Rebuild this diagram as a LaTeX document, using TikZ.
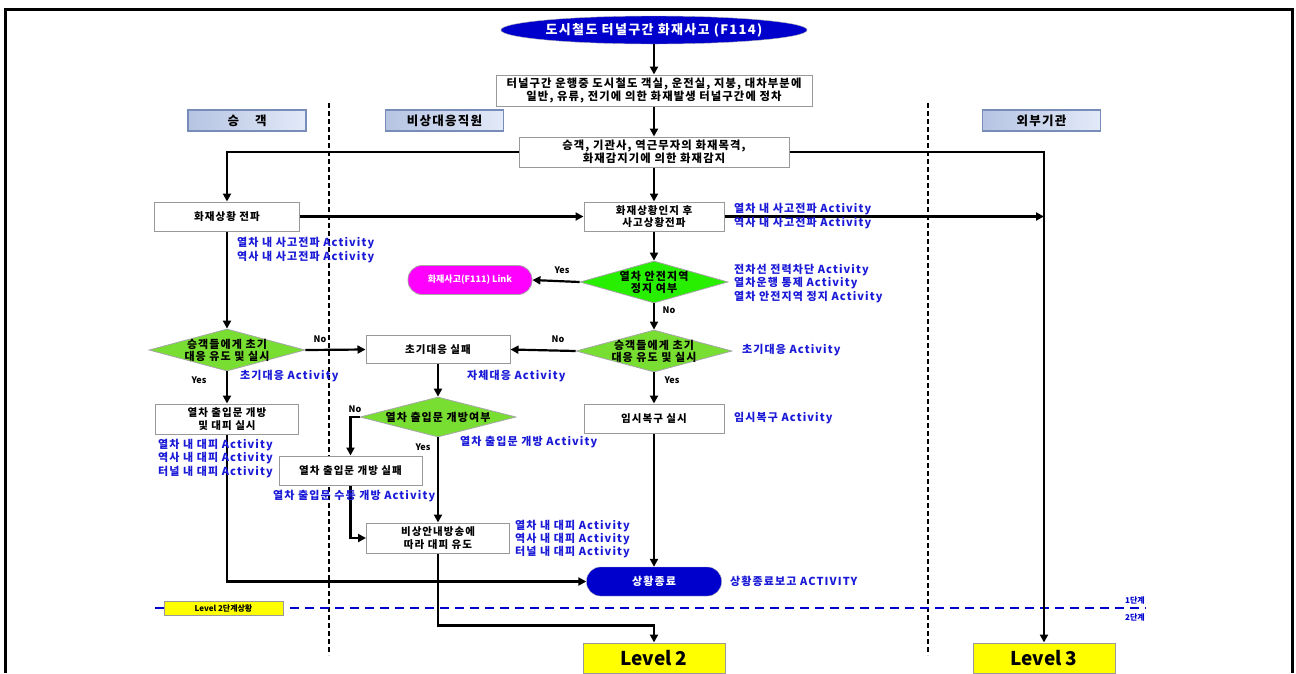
\documentclass[tikz,border=0pt]{standalone}
\usepackage{fontspec}
\setmainfont{Noto Sans CJK KR}
\newfontfamily\krs{Noto Sans CJK KR}[LetterSpace=10]
\usetikzlibrary{shapes.geometric,arrows.meta}
\definecolor{dblue}{RGB}{0,0,204}
\definecolor{actblue}{RGB}{25,25,215}
\definecolor{grnA}{RGB}{40,238,0}
\definecolor{grnB}{RGB}{120,222,50}
\definecolor{mag}{RGB}{255,0,255}
\definecolor{hdr}{RGB}{208,220,244}
\definecolor{hdrdark}{RGB}{120,140,185}
\definecolor{ylw}{RGB}{255,255,0}
\tikzset{
  fbox/.style={draw=gray!80, fill=white, line width=1pt, inner sep=0pt, align=center,
    font=\krs\fontsize{10.5}{12.5}\selectfont\bfseries},
  ddiam/.style={diamond, draw=gray!70, line width=0.8pt, inner sep=0pt},
  dtext/.style={align=center, inner sep=0pt, font=\krs\fontsize{11}{12}\selectfont\bfseries},
  hdrbox/.style={draw=hdrdark, line width=1.2pt, left color=hdr!70!hdrdark, right color=hdr!60!white,
    inner sep=0pt, minimum width=118pt, minimum height=21pt, font=\krs\fontsize{12.5}{14}\selectfont\bfseries},
  conn/.style={line width=2.2pt, -{Triangle[length=8pt,width=8pt]}},
  act/.style={anchor=west, text=actblue, align=left, inner sep=0pt, font=\krs\fontsize{11}{13.3}\selectfont\bfseries},
  yn/.style={inner sep=0pt, font=\fontsize{9}{10}\selectfont\bfseries},
  lvl/.style={draw=gray!80, fill=ylw, line width=1pt, inner sep=0pt, minimum width=142pt, minimum height=30pt,
    font=\fontsize{19}{20}\selectfont\bfseries},
  sep/.style={line width=2pt, dash pattern=on 5pt off 3pt},
}
\begin{document}
\begin{tikzpicture}[x=1pt,y=-1pt]
\useasboundingbox (0,0) rectangle (1296,673);
% frame
\draw[line width=3pt] (5,673) -- (5,9) -- (1292,9) -- (1292,673);
% lane separators
\draw[sep] (329,103) -- (329,655);
\draw[sep] (928,103) -- (928,655);
% level separator
\draw[dblue, line width=2.4pt, dash pattern=on 9pt off 6pt] (155,608) -- (1146,608);
\node[draw=gray!80, fill=ylw, line width=0.8pt, minimum width=119pt, minimum height=14pt, inner sep=0pt,
  font=\fontsize{8}{9}\selectfont\bfseries] (lv2s) at (223.5,608) {Level 2단계상황};
\node[text=dblue, inner sep=0pt, font=\fontsize{8}{9}\selectfont\bfseries] (st1) at (1135,600) {1단계};
\node[text=dblue, inner sep=0pt, font=\fontsize{8}{9}\selectfont\bfseries] (st2) at (1135,617) {2단계};

% headers
\node[hdrbox] (hL) at (247,120.5) {승\hspace{16pt}객};
\node[hdrbox] (hM) at (444.5,120.5) {비상대응직원};
\node[hdrbox] (hR) at (1041.5,120.5) {외부기관};

% main nodes
\node[ellipse, fill=dblue, draw=gray!60, minimum width=280pt, minimum height=28pt, inner sep=0pt, text=white,
  font=\krs\fontsize{13}{14}\selectfont\bfseries] (title) at (654,30) {도시철도 터널구간 화재사고 (F114)};
\node[fbox, minimum width=316pt, minimum height=31pt, font=\krs\fontsize{11.3}{13}\selectfont\bfseries] (b1) at (654,90.5)
  {터널구간 운행중 도시철도 객실, 운전실, 지붕, 대차부분에\\일반, 유류, 전기에 의한 화재발생 터널구간에 정차};
\node[fbox, minimum width=270pt, minimum height=30pt, font=\krs\fontsize{11.3}{13}\selectfont\bfseries] (b2) at (654,152)
  {승객, 기관사, 역근무자의 화재목격,\\화재감지기에 의한 화재감지};
\node[fbox, minimum width=145pt, minimum height=29pt] (bL1) at (227,216.5) {화재상황 전파};
\node[fbox, minimum width=140pt, minimum height=29pt] (bM1) at (654,216.5) {화재상황인지 후\\사고상황전파};
\coordinate (ext) at (1044,216.5);

\node[ddiam, fill=grnA, minimum width=148pt, minimum height=42pt] (d1) at (654,282) {};
\node[dtext] (d1t) at (d1) {열차 안전지역\\정지 여부};
\node[fill=mag, draw=gray!70, line width=0.8pt, rounded corners=14pt, minimum width=124pt, minimum height=29pt,
  inner sep=0pt, text=white, font=\fontsize{9}{10}\selectfont\bfseries] (link) at (470,280) {화재사고(F111) Link};

\node[ddiam, fill=grnB, minimum width=156pt, minimum height=42pt] (d2) at (654,351) {};
\node[dtext] (d2t) at (d2) {승객들에게 초기\\대응 유도 및 실시};
\node[ddiam, fill=grnB, minimum width=156pt, minimum height=42pt] (dL) at (227,350) {};
\node[dtext] (dLt) at (dL) {승객들에게 초기\\대응 유도 및 실시};

\node[fbox, minimum width=144pt, minimum height=28pt] (bF) at (438,349.5) {초기대응 실패};
\node[fbox, minimum width=140pt, minimum height=29pt] (bR) at (654,418.5) {임시복구 실시};
\node[fbox, minimum width=143pt, minimum height=30pt] (bL2) at (227,419) {열차 출입문 개방\\및 대피 실시};

\node[ddiam, fill=grnB, minimum width=156pt, minimum height=40pt] (d3) at (438,417) {};
\node[dtext] (d3t) at (d3) {열차 출입문 개방여부};
\node[fbox, minimum width=143pt, minimum height=29pt] (bF2) at (350.5,470.5) {열차 출입문 개방 실패};
\node[fbox, minimum width=143pt, minimum height=30pt] (bE) at (438,538) {비상안내방송에\\따라 대피 유도};

\node[fill=dblue, draw=gray!60, rounded corners=14pt, minimum width=135pt, minimum height=29pt, inner sep=0pt,
  text=white, font=\krs\fontsize{11}{12}\selectfont\bfseries] (end) at (654,581.5) {상황종료};

\node[lvl] (L2) at (654,658) {Level 2};
\node[lvl] (L3) at (1044,658) {Level 3};

% connectors
\draw[conn] (title.south) -- (b1.north);
\draw[conn] (b1.south) -- (b2.north);
\draw[conn] (b2.west) -| (bL1.north);
\draw[conn] (b2.east) -| (L3.north);
\draw[conn] (b2.south) -- (bM1.north);
\draw[conn] (bL1.east) -- (bM1.west);
\draw[conn] (bM1.east) -- (ext);
\draw[conn] (bM1.south) -- (d1.north);
\draw[conn] (d1.west) -- (link.east);
\draw[conn] (d1.south) -- (d2.north);
\draw[conn] (d2.west) -- (bF.east);
\draw[conn] (d2.south) -- (bR.north);
\draw[conn] (bR.south) -- (end.north);
\draw[conn] (bL1.south) -- (dL.north);
\draw[conn] (dL.east) -- (bF.west);
\draw[conn] (dL.south) -- (bL2.north);
\draw[conn] (bL2.south) |- (end.west);
\draw[conn] (bF.south) -- (d3.north);
\draw[conn] (d3.west) -| (bF2.north);
\draw[conn] (d3.south) -- (bE.north);
\draw[conn] (bF2.south) |- (bE.west);
\draw[conn] (bE.south) -- ++(0,72) -| (L2.north);

% yes / no labels
\node[yn] (y1) at (562,270) {Yes};
\node[yn] (n1) at (669,310) {No};
\node[yn] (n2) at (558,339) {No};
\node[yn] (y2) at (672,380) {Yes};
\node[yn] (n3) at (320,339) {No};
\node[yn] (y3) at (199,380) {Yes};
\node[yn] (n4) at (355,409) {No};
\node[yn] (y4) at (423,447) {Yes};

% activity texts
\node[act] (a1) at (734,216) {열차 내 사고전파 Activity\\역사 내 사고전파 Activity};
\node[act] (a2) at (237,250) {열차 내 사고전파 Activity\\역사 내 사고전파 Activity};
\node[act] (a3) at (734,283.5) {전차선 전력차단 Activity\\열차운행 통제 Activity\\열차 안전지역 정지 Activity};
\node[act] (a4) at (742,350.5) {초기대응 Activity};
\node[act] (a5) at (240,376) {초기대응 Activity};
\node[act] (a6) at (467,376) {자체대응 Activity};
\node[act] (a7) at (734,418) {임시복구 Activity};
\node[act] (a8) at (158,458.5) {열차 내 대피 Activity\\역사 내 대피 Activity\\터널 내 대피 Activity};
\node[act] (a9) at (460,442) {열차 출입문 개방 Activity};
\node[act] (a10) at (273,496) {열차 출입문 수동 개방 Activity};
\node[act] (a11) at (515,539) {열차 내 대피 Activity\\역사 내 대피 Activity\\터널 내 대피 Activity};
\node[act] (a12) at (730,581.5) {상황종료보고 ACTIVITY};
\end{tikzpicture}
\end{document}
